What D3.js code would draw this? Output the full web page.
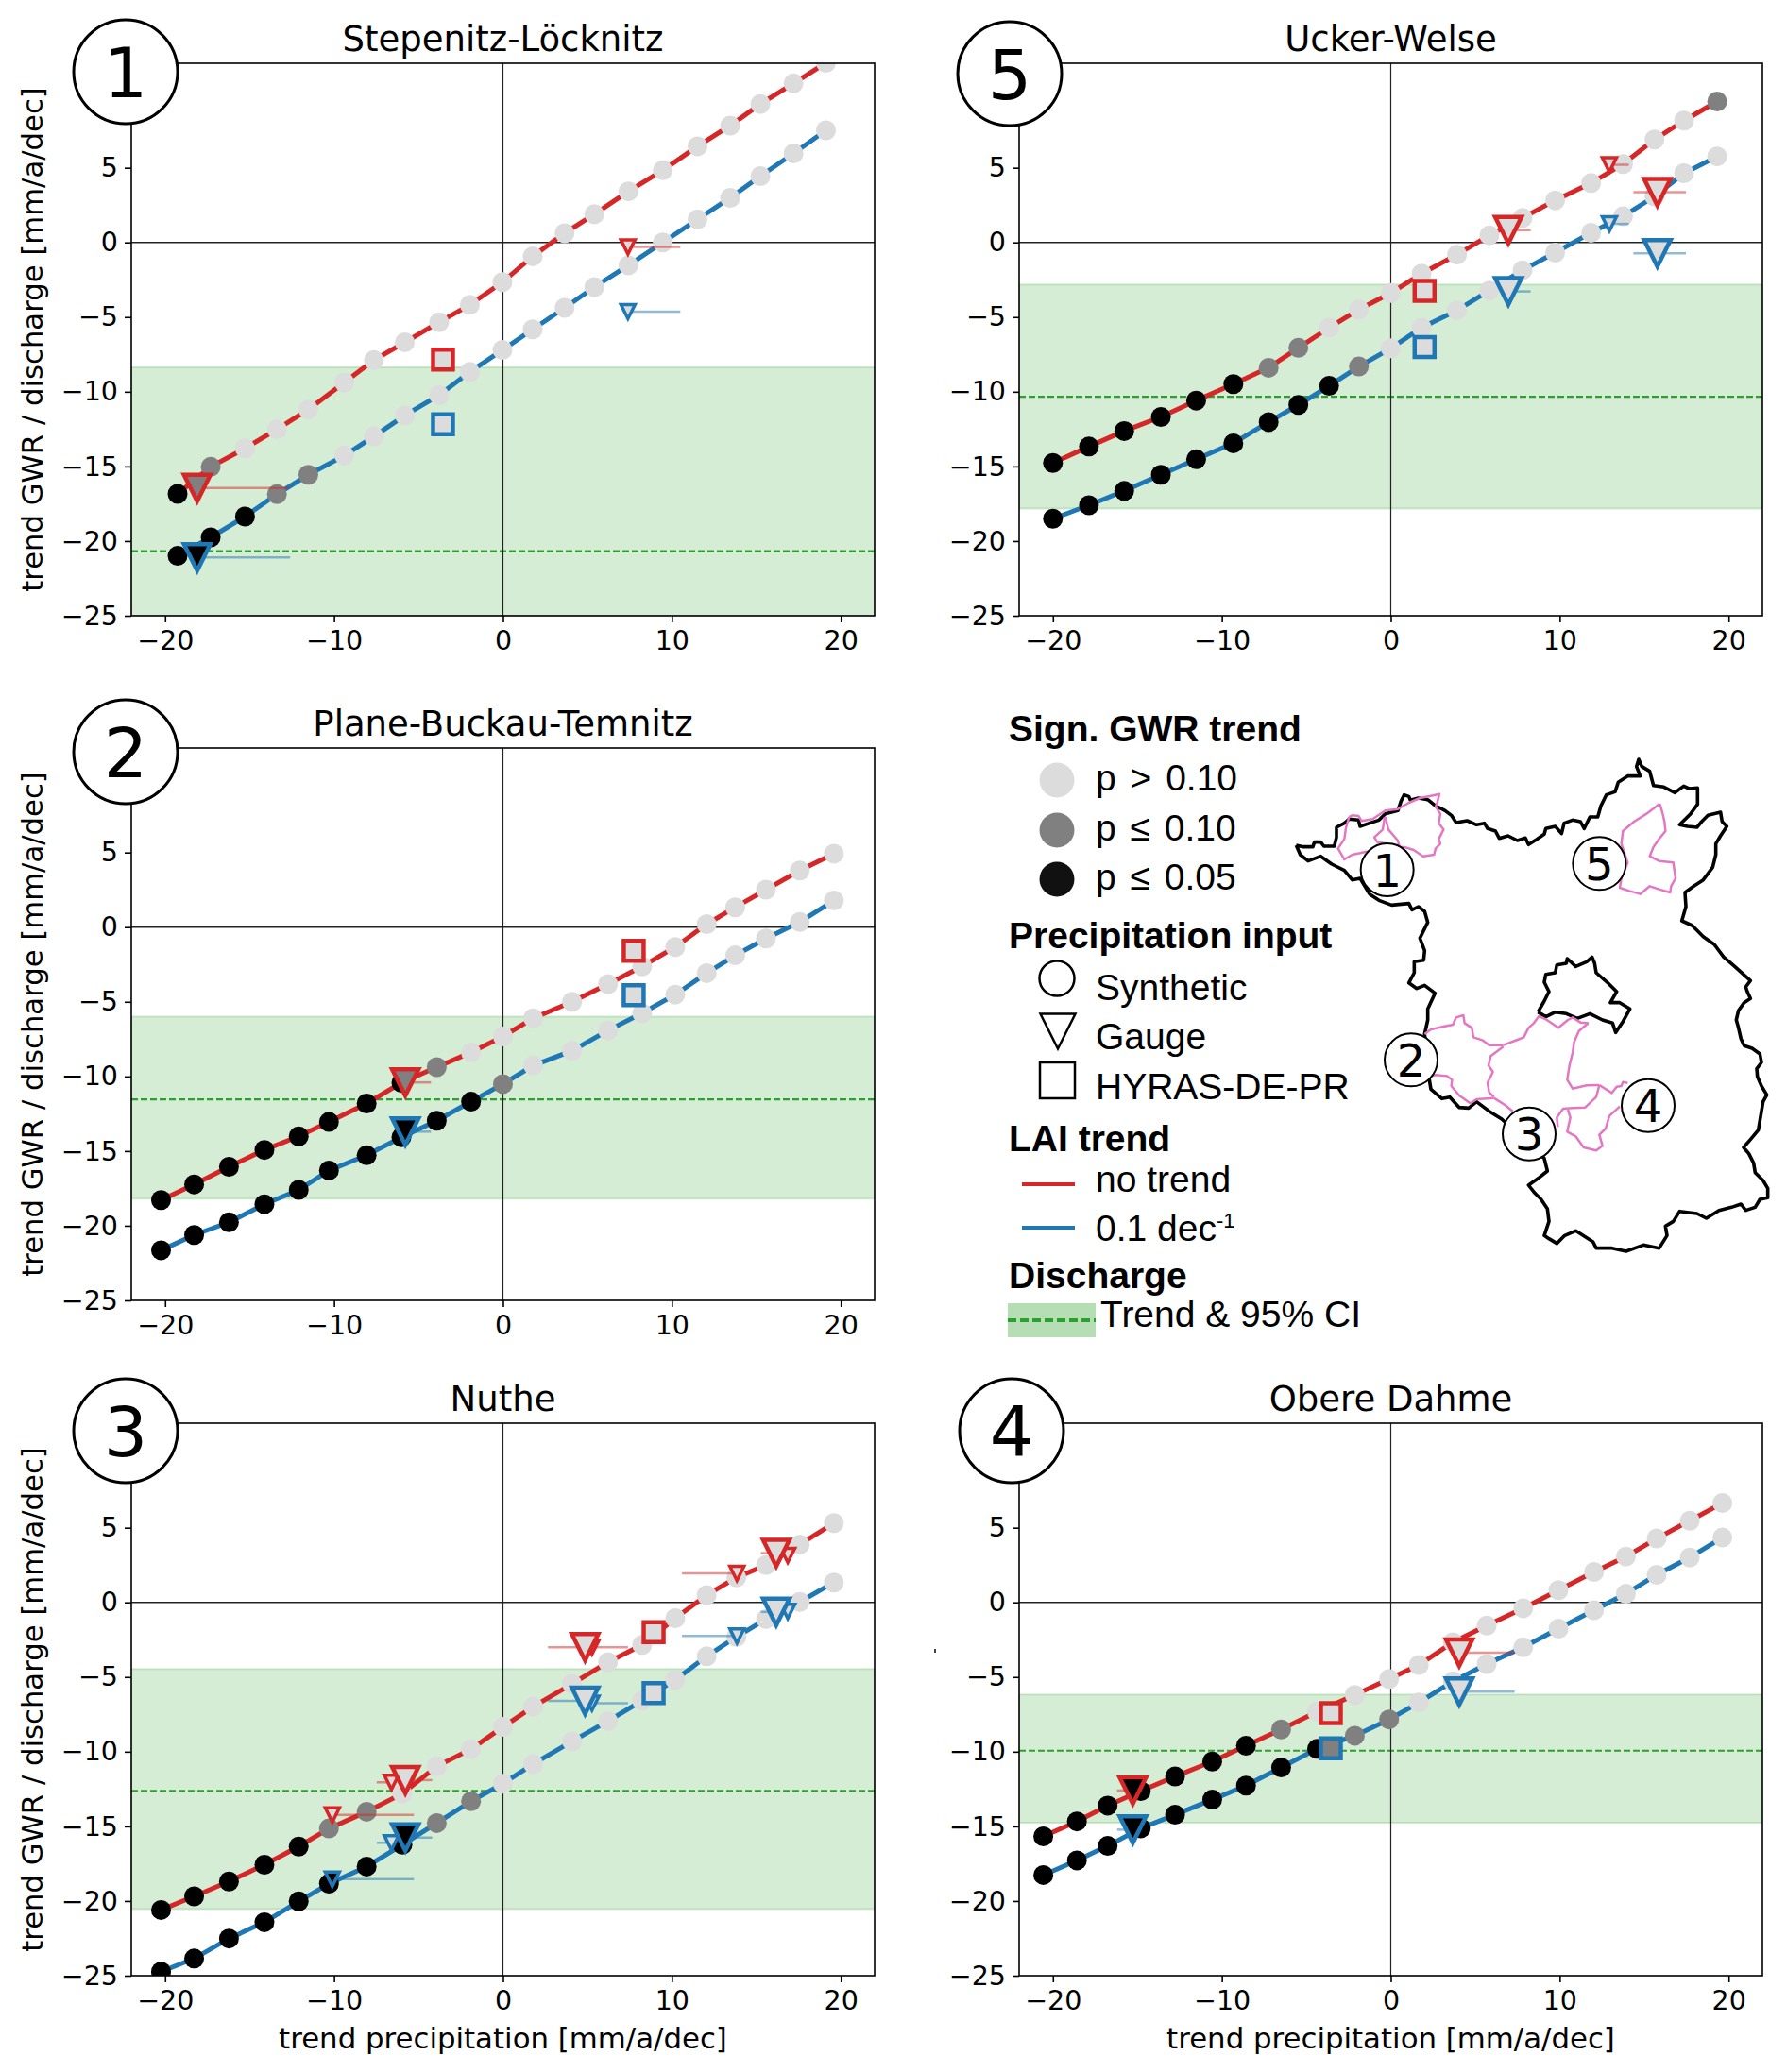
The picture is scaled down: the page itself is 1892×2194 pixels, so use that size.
<!DOCTYPE html>
<html lang="en">
<head>
<meta charset="UTF-8">
<title>GWR trend vs precipitation trend</title>
<script src="https://cdn.jsdelivr.net/npm/d3@7"></script>
<style>
  html, body { margin: 0; padding: 0; background: #fff; }
  svg { display: block; }
  text { font-family: "DejaVu Sans", sans-serif; fill: #000; }
  .legend text { font-family: "Liberation Sans", sans-serif; font-size: 39px; }
  .legend .head { font-weight: bold; }
  .legend .sig { word-spacing: 4px; }
</style>
</head>
<body>
<script>
const W = 1892, H = 2194

// significance: 0 p > 0.10, 1 p <= 0.10, 2 p <= 0.05
const sigColors = ["#dcdcdc", "#808080", "#000000"]
const yTicks = [-25, -20, -15, -10, -5, 0, 5]
const xTicks = [-20, -10, 0, 10, 20]
const xDomain = [-22, 22]
const yDomain = [-25, 12]

// 1 Stepenitz-Löcknitz
const p1X = [-19.26, -17.3, -15.27, -13.38, -11.52, -9.39, -7.64, -5.81, -3.78, -1.96, -0.03, 1.76, 3.65, 5.41, 7.43, 9.46, 11.52, 13.45, 15.24, 17.2, 19.12]
const p1Red = [-16.84, -15.03, -13.79, -12.51, -11.19, -9.38, -7.88, -6.69, -5.34, -4.18, -2.66, -0.93, 0.62, 1.89, 3.42, 4.83, 6.44, 7.82, 9.27, 10.65, 12.03]
const p1Blue = [-20.99, -19.75, -18.36, -16.86, -15.56, -14.27, -12.99, -11.58, -10.23, -8.67, -7.2, -5.82, -4.38, -2.99, -1.53, 0, 1.55, 2.99, 4.44, 5.96, 7.51]
const p1RedSig = [2, 1, 0, 0, 0, 0, 0, 0, 0, 0, 0, 0, 0, 0, 0, 0, 0, 0, 0, 0, 0]
const p1BlueSig = [2, 2, 2, 1, 1, 0, 0, 0, 0, 0, 0, 0, 0, 0, 0, 0, 0, 0, 0, 0, 0]
const p1Band = [-8.36, -25, -20.68]
// lai, marker, x, y, sig, range from, range to
const p1Markers = [
  ["red", "gaugeS", 7.4, -0.3, 0, 7.4, 10.5],
  ["blue", "gaugeS", 7.4, -4.63, 0, 7.4, 10.5],
  ["red", "gaugeL", -18.1, -16.45, 1, -18.1, -12.7],
  ["blue", "gaugeL", -18.1, -21.1, 2, -18.1, -12.6],
  ["red", "hyras", -3.55, -7.85, 0],
  ["blue", "hyras", -3.55, -12.18, 0]
]

// 2 Plane-Buckau-Temnitz
const p2X = [-20.24, -18.28, -16.22, -14.12, -12.09, -10.3, -8.07, -6.01, -3.92, -1.89, 0, 1.79, 4.09, 6.22, 8.24, 10.2, 12.06, 13.75, 15.57, 17.57, 19.59]
const p2Red = [-18.28, -17.23, -16.05, -14.92, -14.01, -13.05, -11.81, -10.42, -9.38, -8.39, -7.32, -6.1, -5.0, -3.81, -2.63, -1.33, 0.2, 1.33, 2.51, 3.79, 4.92]
const p2Blue = [-21.64, -20.62, -19.77, -18.56, -17.6, -16.3, -15.28, -14.07, -12.97, -11.69, -10.51, -9.27, -8.28, -6.92, -5.76, -4.52, -3.08, -1.89, -0.76, 0.34, 1.78]
const p2RedSig = [2, 2, 2, 2, 2, 2, 2, 2, 1, 0, 0, 0, 0, 0, 0, 0, 0, 0, 0, 0, 0]
const p2BlueSig = [2, 2, 2, 2, 2, 2, 2, 2, 2, 2, 1, 0, 0, 0, 0, 0, 0, 0, 0, 0, 0]
const p2Band = [-5.99, -18.19, -11.53]
const p2Markers = [
  ["red", "gaugeL", -5.78, -10.4, 1, -5.78, -4.26],
  ["blue", "gaugeL", -5.78, -13.7, 2, -5.78, -4.26],
  ["red", "hyras", 7.74, -1.58, 0],
  ["blue", "hyras", 7.74, -4.55, 0]
]

// 3 Nuthe
const p3X = [-20.24, -18.28, -16.22, -14.12, -12.09, -10.3, -8.07, -5.95, -3.92, -1.89, 0, 1.79, 4.09, 6.22, 8.24, 10.2, 12.06, 13.82, 15.57, 17.57, 19.59]
const p3Red = [-20.6, -19.69, -18.69, -17.57, -16.35, -15.14, -14.02, -12.8, -10.98, -9.83, -8.34, -6.98, -5.46, -4.0, -2.85, -1.06, 0.49, 1.67, 2.49, 3.88, 5.31]
const p3Blue = [-24.73, -23.85, -22.51, -21.42, -20.02, -18.84, -17.69, -16.23, -14.78, -13.32, -12.14, -10.83, -9.31, -7.95, -6.58, -5.19, -3.61, -2.31, -1.12, 0.03, 1.33]
const p3RedSig = [2, 2, 2, 2, 2, 1, 1, 0, 0, 0, 0, 0, 0, 0, 0, 0, 0, 0, 0, 0, 0]
const p3BlueSig = [2, 2, 2, 2, 2, 2, 2, 2, 1, 1, 0, 0, 0, 0, 0, 0, 0, 0, 0, 0, 0]
const p3Band = [-4.46, -20.54, -12.62]
const p3Markers = [
  ["red", "gaugeS", -10.1, -14.23, 0, -10.1, -5.27],
  ["blue", "gaugeS", -10.1, -18.54, 2, -10.1, -5.27],
  ["red", "gaugeS", -6.6, -12.05, 0, -7.47, -6.6],
  ["blue", "gaugeS", -6.6, -16.1, 0, -7.47, -6.6],
  ["red", "gaugeL", -5.78, -11.9, 0, -5.78, -4.19],
  ["blue", "gaugeL", -5.78, -15.75, 2, -5.78, -4.19],
  ["red", "gaugeS", 5.27, -3.0, 0, 5.27, 7.4],
  ["blue", "gaugeS", 5.27, -6.75, 0, 5.27, 7.4],
  ["red", "gaugeL", 4.86, -3.0, 0, 2.67, 4.86],
  ["blue", "gaugeL", 4.86, -6.6, 0, 2.67, 4.86],
  ["red", "gaugeS", 13.85, 1.94, 0, 10.6, 13.85],
  ["blue", "gaugeS", 13.85, -2.25, 0, 10.6, 13.85],
  ["red", "gaugeS", 16.86, 3.15, 0, 16.86, 16.86],
  ["blue", "gaugeS", 16.86, -0.6, 0, 16.86, 16.86],
  ["red", "gaugeL", 16.18, 3.3, 0, 15.27, 16.18],
  ["blue", "gaugeL", 16.18, -0.64, 0, 15.27, 16.18],
  ["red", "hyras", 8.92, -2.0, 0],
  ["blue", "hyras", 8.92, -6.07, 0]
]

// 4 Obere Dahme
const p4X = [-20.57, -18.58, -16.76, -14.8, -12.77, -10.57, -8.57, -6.49, -4.36, -2.13, -0.1, 1.66, 3.68, 5.68, 7.84, 9.93, 12.03, 13.92, 15.74, 17.7, 19.63]
const p4Red = [-15.67, -14.67, -13.61, -12.64, -11.66, -10.66, -9.6, -8.51, -7.32, -6.2, -5.13, -4.19, -2.67, -1.55, -0.39, 0.82, 2.04, 3.07, 4.28, 5.47, 6.65]
const p4Blue = [-18.26, -17.28, -16.31, -15.13, -14.22, -13.21, -12.27, -11.06, -9.81, -8.93, -7.84, -6.71, -5.29, -4.13, -3.01, -1.76, -0.52, 0.58, 1.85, 3.01, 4.34]
const p4RedSig = [2, 2, 2, 2, 2, 2, 2, 1, 0, 0, 0, 0, 0, 0, 0, 0, 0, 0, 0, 0, 0]
const p4BlueSig = [2, 2, 2, 2, 2, 2, 2, 2, 2, 1, 1, 0, 0, 0, 0, 0, 0, 0, 0, 0, 0]
const p4Band = [-6.17, -14.76, -9.93]
const p4Markers = [
  ["red", "gaugeL", -15.27, -12.6, 2, -16.2, -15.27],
  ["blue", "gaugeL", -15.27, -15.22, 2, -16.2, -15.27],
  ["red", "gaugeL", 4.05, -3.37, 0, 4.05, 7.33],
  ["blue", "gaugeL", 4.05, -5.98, 0, 4.05, 7.33],
  ["red", "hyras", -3.55, -7.41, 0],
  ["blue", "hyras", -3.55, -9.78, 1]
]

// 5 Ucker-Welse
const p5X = [-20, -17.87, -15.78, -13.61, -11.52, -9.32, -7.23, -5.47, -3.65, -1.89, 0, 1.82, 3.92, 5.84, 7.8, 9.73, 11.86, 13.75, 15.61, 17.36, 19.32]
const p5Red = [-14.77, -13.67, -12.63, -11.69, -10.59, -9.49, -8.39, -7.06, -5.71, -4.49, -3.39, -2.09, -0.82, 0.48, 1.64, 2.82, 3.98, 5.25, 6.89, 8.16, 9.44]
const p5Blue = [-18.5, -17.6, -16.64, -15.56, -14.52, -13.45, -12.03, -10.88, -9.6, -8.31, -7.09, -5.71, -4.55, -3.22, -1.86, -0.68, 0.65, 1.75, 3.08, 4.63, 5.76]
const p5RedSig = [2, 2, 2, 2, 2, 2, 1, 1, 0, 0, 0, 0, 0, 0, 0, 0, 0, 0, 0, 0, 1]
const p5BlueSig = [2, 2, 2, 2, 2, 2, 2, 2, 2, 1, 0, 0, 0, 0, 0, 0, 0, 0, 0, 0, 0]
const p5Band = [-2.82, -17.82, -10.34]
const p5Markers = [
  ["red", "gaugeS", 12.94, 5.2, 0, 12.94, 14.09],
  ["blue", "gaugeS", 12.94, 1.24, 0, 12.94, 14.09],
  ["red", "gaugeL", 6.96, 0.82, 0, 6.96, 8.28],
  ["blue", "gaugeL", 6.96, -3.28, 0, 6.96, 8.28],
  ["red", "gaugeL", 15.78, 3.36, 0, 14.36, 17.47],
  ["blue", "gaugeL", 15.78, -0.73, 0, 14.36, 17.47],
  ["red", "hyras", 2.0, -3.25, 0],
  ["blue", "hyras", 2.0, -7.0, 0]
]

// map, in map units
const mapState = [[37,315],[60,320],[90,320],[95,305],[115,305],[125,318],[158,318],[165,290],[165,258],[190,245],[205,232],[235,235],[240,255],[270,245],[300,235],[320,215],[360,205],[370,175],[380,155],[395,160],[400,172],[425,165],[455,170],[480,190],[510,205],[530,220],[545,243],[580,237],[610,250],[635,245],[645,262],[670,270],[682,293],[710,285],[740,300],[765,292],[775,313],[800,297],[825,280],[830,262],[860,255],[880,278],[888,245],[915,235],[940,240],[952,262],[970,225],[995,225],[1005,190],[1022,155],[1050,145],[1060,115],[1090,95],[1130,95],[1118,65],[1125,42],[1135,65],[1160,80],[1172,125],[1205,130],[1240,148],[1268,127],[1285,135],[1312,133],[1312,185],[1290,215],[1255,250],[1280,255],[1310,258],[1325,240],[1345,220],[1385,210],[1390,240],[1405,255],[1385,285],[1370,310],[1370,345],[1360,385],[1330,425],[1300,445],[1272,465],[1275,510],[1262,555],[1295,570],[1330,605],[1365,630],[1395,670],[1430,700],[1480,745],[1465,765],[1470,780],[1480,802],[1460,815],[1442,840],[1435,870],[1442,895],[1450,930],[1460,952],[1485,960],[1510,978],[1515,1005],[1500,1025],[1502,1050],[1515,1080],[1532,1108],[1520,1130],[1515,1160],[1510,1190],[1505,1220],[1480,1250],[1458,1275],[1475,1295],[1490,1325],[1495,1355],[1520,1380],[1535,1405],[1535,1435],[1510,1440],[1495,1465],[1465,1475],[1450,1455],[1420,1465],[1380,1475],[1340,1500],[1310,1485],[1255,1478],[1235,1510],[1210,1525],[1215,1555],[1190,1595],[1140,1585],[1085,1605],[1040,1595],[990,1595],[980,1575],[925,1540],[890,1555],[865,1580],[840,1565],[825,1555],[840,1510],[835,1470],[815,1440],[795,1420],[775,1395],[810,1370],[835,1350],[825,1310],[690,1185],[650,1160],[610,1130],[585,1150],[555,1148],[525,1115],[500,1120],[465,1090],[460,1060],[445,915],[455,870],[455,835],[478,785],[445,760],[420,770],[395,752],[412,720],[412,685],[442,680],[445,650],[430,610],[455,560],[445,525],[425,510],[405,520],[395,500],[340,505],[300,490],[270,470],[240,420],[215,425],[190,395],[150,375],[115,350],[75,365],[50,345],[37,315]]
const mapBerlin = [[805,845],[825,810],[840,780],[825,750],[830,725],[860,720],[865,695],[895,690],[898,675],[925,700],[960,685],[977,670],[985,690],[990,720],[1030,755],[1055,780],[1035,815],[1065,815],[1097,835],[1075,875],[1052,910],[1042,880],[1010,870],[970,850],[930,865],[895,850],[860,845],[830,860],[805,845]]
const mapCatchments = [
  [[205,225],[215,220],[235,222],[245,238],[280,232],[320,205],[360,200],[395,180],[430,165],[465,158],[492,152],[485,180],[480,192],[495,215],[490,245],[505,265],[490,295],[495,310],[480,325],[475,345],[440,350],[410,330],[385,322],[365,320],[330,350],[260,335],[240,340],[215,345],[190,360],[170,325],[190,295],[195,260],[205,225]],
  [[320,225],[330,265],[360,300],[365,320]],
  [[318,225],[312,265],[285,290],[295,305],[325,310]],
  [[1192,183],[1200,210],[1207,240],[1210,270],[1190,295],[1172,320],[1160,350],[1190,365],[1235,370],[1242,420],[1228,445],[1225,465],[1190,455],[1160,445],[1130,470],[1095,460],[1065,450],[1070,420],[1090,370],[1070,310],[1075,270],[1110,240],[1150,215],[1192,183]],
  [[445,915],[465,900],[500,892],[535,885],[545,862],[568,855],[572,880],[595,895],[600,925],[630,935],[650,950],[695,950]],
  [[695,955],[655,985],[648,1015],[662,1035],[645,1070],[650,1100],[665,1115]],
  [[665,1118],[610,1122],[590,1135],[555,1110],[530,1080],[532,1060],[515,1048],[480,1045],[460,1050]],
  [[695,950],[740,933],[760,925],[775,895],[792,880],[808,858],[830,868],[870,895],[900,870],[915,862],[940,878],[965,880]],
  [[965,880],[935,905],[920,940],[915,975],[905,1015],[898,1060],[915,1088],[960,1078],[1000,1077]],
  [[1000,1077],[990,1115],[955,1148],[915,1150],[885,1152],[865,1180],[868,1210]],
  [[665,1118],[700,1140],[725,1160]],
  [[1000,1077],[1040,1102],[1055,1082],[1070,1080],[1075,1067],[1090,1070]],
  [[1065,1145],[1032,1175],[1020,1215],[1000,1235],[1010,1270],[990,1285],[950,1275],[925,1240],[898,1225],[908,1180],[900,1155]]
]
const mapLabels = [["1",326,393],["5",1000,373],["2",402,997],["3",777,1232],["4",1155,1142]]

const colors = { red: "#d62728", blue: "#1f77b4", green: "#2ca02c" }

// panel layout
const panels = [
  { n: "1", title: "Stepenitz-Löcknitz", x: p1X, red: p1Red, blue: p1Blue, redSig: p1RedSig, blueSig: p1BlueSig, band: p1Band, markers: p1Markers, left: 139, top: 67, cx: 133, cy: 76, yLabel: true },
  { n: "5", title: "Ucker-Welse", x: p5X, red: p5Red, blue: p5Blue, redSig: p5RedSig, blueSig: p5BlueSig, band: p5Band, markers: p5Markers, left: 1079, top: 67, cx: 1069, cy: 78 },
  { n: "2", title: "Plane-Buckau-Temnitz", x: p2X, red: p2Red, blue: p2Blue, redSig: p2RedSig, blueSig: p2BlueSig, band: p2Band, markers: p2Markers, left: 139, top: 792, cx: 133, cy: 796, yLabel: true },
  { n: "3", title: "Nuthe", x: p3X, red: p3Red, blue: p3Blue, redSig: p3RedSig, blueSig: p3BlueSig, band: p3Band, markers: p3Markers, left: 139, top: 1507, cx: 133, cy: 1515, yLabel: true, xLabel: true },
  { n: "4", title: "Obere Dahme", x: p4X, red: p4Red, blue: p4Blue, redSig: p4RedSig, blueSig: p4BlueSig, band: p4Band, markers: p4Markers, left: 1079, top: 1507, cx: 1071, cy: 1515, xLabel: true }
]
const pw = 787, ph = 585

const svg = d3.select("body").append("svg").attr("width", W).attr("height", H)

// matplotlib style triangle, tip down
const triangleDown = {
  draw(ctx, size) {
    const r = Math.sqrt(size) / 2
    ctx.moveTo(-r, -r)
    ctx.lineTo(r, -r)
    ctx.lineTo(0, r)
    ctx.closePath()
  }
}
const markerPath = {
  gaugeL: d3.symbol().type(triangleDown).size(784)(),
  gaugeS: d3.symbol().type(triangleDown).size(225)(),
  hyras: d3.symbol().type(d3.symbolSquare).size(441)()
}
const markerStroke = { gaugeL: 4.5, gaugeS: 3.5, hyras: 4.5 }

function drawPanel(p, i) {
  const g = svg.append("g").attr("transform", `translate(${p.left},${p.top})`)
  const xScale = d3.scaleLinear().domain(xDomain).range([0, pw])
  const yScale = d3.scaleLinear().domain(yDomain).range([ph, 0])

  const clipId = "clip" + i
  g.append("clipPath").attr("id", clipId).append("rect").attr("width", pw).attr("height", ph)
  const plot = g.append("g").attr("clip-path", `url(#${clipId})`)

  // discharge trend and CI
  plot.append("rect")
    .attr("x", 0).attr("width", pw)
    .attr("y", yScale(p.band[0]))
    .attr("height", yScale(p.band[1]) - yScale(p.band[0]))
    .attr("fill", colors.green).attr("fill-opacity", 0.2)
    .attr("stroke", colors.green).attr("stroke-opacity", 0.2).attr("stroke-width", 2)
  plot.append("line")
    .attr("x1", 0).attr("x2", pw)
    .attr("y1", yScale(p.band[2])).attr("y2", yScale(p.band[2]))
    .attr("stroke", colors.green).attr("stroke-width", 2.2).attr("stroke-dasharray", "7,3")

  // zero lines
  plot.append("line").attr("x1", 0).attr("x2", pw).attr("y1", yScale(0)).attr("y2", yScale(0))
    .attr("stroke", "#222").attr("stroke-width", 1.5)
  plot.append("line").attr("x1", xScale(0)).attr("x2", xScale(0)).attr("y1", 0).attr("y2", ph)
    .attr("stroke", "#222").attr("stroke-width", 1.2)

  // series
  const line = d3.line().x(d => xScale(d[0])).y(d => yScale(d[1]))
  ;[["red", p.red, p.redSig], ["blue", p.blue, p.blueSig]].forEach(([name, ys, sig]) => {
    const pts = p.x.map((x, j) => [x, ys[j], sig[j]])
    plot.append("path").datum(pts)
      .attr("d", line).attr("fill", "none")
      .attr("stroke", colors[name]).attr("stroke-width", 5)
    plot.selectAll(null).data(pts).enter().append("circle")
      .attr("cx", d => xScale(d[0]))
      .attr("cy", d => yScale(d[1]))
      .attr("r", 10.5)
      .attr("fill", d => sigColors[d[2]])
  })

  // precipitation products
  p.markers.forEach(m => {
    const [lai, kind, mx, my, sig, from, to] = m
    if (from !== undefined && from !== to) {
      plot.append("line")
        .attr("x1", xScale(from)).attr("x2", xScale(to))
        .attr("y1", yScale(my)).attr("y2", yScale(my))
        .attr("stroke", colors[lai]).attr("stroke-opacity", 0.5).attr("stroke-width", 2.5)
    }
    plot.append("path")
      .attr("d", markerPath[kind])
      .attr("transform", `translate(${xScale(mx)},${yScale(my)})`)
      .attr("fill", sigColors[sig])
      .attr("stroke", colors[lai])
      .attr("stroke-width", markerStroke[kind])
  })

  // frame and axes
  g.append("rect").attr("width", pw).attr("height", ph)
    .attr("fill", "none").attr("stroke", "#000").attr("stroke-width", 1.6)

  const xAxis = d3.axisBottom(xScale).tickValues(xTicks).tickSize(7).tickPadding(9).tickSizeOuter(0)
  const yAxis = d3.axisLeft(yScale).tickValues(yTicks).tickSize(7).tickPadding(7).tickSizeOuter(0)
  const gx = g.append("g").attr("transform", `translate(0,${ph})`).call(xAxis)
  const gy = g.append("g").call(yAxis)
  ;[gx, gy].forEach(a => {
    a.select(".domain").remove()
    a.selectAll(".tick line").attr("stroke", "#000").attr("stroke-width", 1.6)
    a.selectAll("text").style("font-size", "28.5px").style("font-family", '"DejaVu Sans"')
  })

  g.append("text").attr("x", pw / 2).attr("y", -13)
    .attr("text-anchor", "middle").style("font-size", "37px").text(p.title)

  if (p.yLabel) {
    g.append("text")
      .attr("transform", `translate(${45 - p.left},${ph / 2}) rotate(-90)`)
      .attr("text-anchor", "middle").style("font-size", "30.7px")
      .text("trend GWR / discharge [mm/a/dec]")
  }
  if (p.xLabel) {
    g.append("text").attr("x", pw / 2).attr("y", ph + 77)
      .attr("text-anchor", "middle").style("font-size", "30.8px")
      .text("trend precipitation [mm/a/dec]")
  }

  // big number
  svg.append("circle").attr("cx", p.cx).attr("cy", p.cy).attr("r", 55)
    .attr("fill", "#fff").attr("stroke", "#000").attr("stroke-width", 3)
  svg.append("text").attr("x", p.cx).attr("y", p.cy + 27)
    .attr("text-anchor", "middle").style("font-size", "73px").text(p.n)
}
panels.forEach(drawPanel)

// stray mark left of panel 4
svg.append("rect").attr("x", 989).attr("y", 1746).attr("width", 2).attr("height", 4).attr("fill", "#444")

// legend
const legend = svg.append("g").attr("class", "legend")
const addText = (x, y, t, cls) => legend.append("text").attr("x", x).attr("y", y).attr("class", cls || null).text(t)

addText(1068, 785, "Sign. GWR trend", "head")
;[[826, 0, "p > 0.10"], [879, 1, "p ≤ 0.10"], [931, 2, "p ≤ 0.05"]].forEach(([y, s, t]) => {
  legend.append("circle").attr("cx", 1119).attr("cy", y).attr("r", 18.5)
    .attr("fill", sigColors[s] === "#000000" ? "#111" : sigColors[s])
  addText(1160, y + 11, t, "sig")
})
addText(1068, 1004, "Precipitation input", "head")
legend.append("circle").attr("cx", 1119).attr("cy", 1036).attr("r", 18.5)
  .attr("fill", "none").attr("stroke", "#000").attr("stroke-width", 2.5)
legend.append("path").attr("d", d3.symbol().type(triangleDown).size(1369)())
  .attr("transform", "translate(1120,1092)")
  .attr("fill", "none").attr("stroke", "#000").attr("stroke-width", 2.5)
legend.append("rect").attr("x", 1101).attr("y", 1125).attr("width", 37).attr("height", 38)
  .attr("fill", "none").attr("stroke", "#000").attr("stroke-width", 2.5)
addText(1160, 1059, "Synthetic")
addText(1160, 1111, "Gauge")
addText(1160, 1164, "HYRAS-DE-PR")
addText(1068, 1219, "LAI trend", "head")
legend.append("line").attr("x1", 1082).attr("x2", 1138).attr("y1", 1254).attr("y2", 1254)
  .attr("stroke", colors.red).attr("stroke-width", 4)
addText(1160, 1262, "no trend")
legend.append("line").attr("x1", 1082).attr("x2", 1138).attr("y1", 1300).attr("y2", 1300)
  .attr("stroke", colors.blue).attr("stroke-width", 4)
const decText = addText(1160, 1314, "0.1 dec")
decText.append("tspan").attr("dy", -14).style("font-size", "22px").text("-1")
addText(1068, 1364, "Discharge", "head")
legend.append("rect").attr("x", 1067).attr("y", 1380).attr("width", 93).attr("height", 36)
  .attr("fill", colors.green).attr("fill-opacity", 0.35)
legend.append("line").attr("x1", 1067).attr("x2", 1160).attr("y1", 1398).attr("y2", 1398)
  .attr("stroke", colors.green).attr("stroke-width", 4).attr("stroke-dasharray", "9,4")
addText(1165, 1405, "Trend & 95% CI")

// map
const mapX = d3.scaleLinear().domain([0, 1560]).range([1360, 1880])
const mapY = d3.scaleLinear().domain([0, 870]).range([790, 1080])
const mapLine = d3.line().x(d => mapX(d[0])).y(d => mapY(d[1])).curve(d3.curveLinear)
const map = svg.append("g")
;[mapState, mapBerlin].forEach(o => {
  map.append("path").attr("d", mapLine(o)).attr("fill", "none")
    .attr("stroke", "#000").attr("stroke-width", 3.6).attr("stroke-linejoin", "round")
})
mapCatchments.forEach(c => {
  map.append("path").attr("d", mapLine(c)).attr("fill", "none")
    .attr("stroke", "#e377c2").attr("stroke-width", 2.5).attr("stroke-linejoin", "round")
})
mapLabels.forEach(([t, x, y]) => {
  map.append("circle").attr("cx", mapX(x)).attr("cy", mapY(y)).attr("r", 28)
    .attr("fill", "#fff").attr("stroke", "#000").attr("stroke-width", 2)
  map.append("text").attr("x", mapX(x)).attr("y", mapY(y) + 17.5)
    .attr("text-anchor", "middle").style("font-size", "48px").text(t)
})
</script>
</body>
</html>
